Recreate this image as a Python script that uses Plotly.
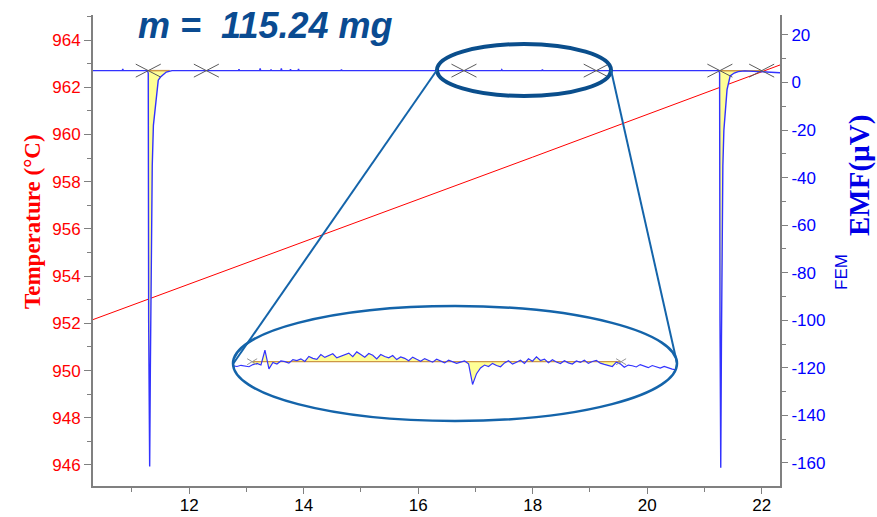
import plotly.graph_objects as go

# ---------------- data ----------------
# axis ranges: run time (min), temperature (°C), EMF (µV)
T_RANGE = [10.32, 22.32]
TEMP_RANGE = [945.11, 965.06]
EMF_RANGE = [-169.7, 28.4]

temp_ticks = [946, 948, 950, 952, 954, 956, 958, 960, 962, 964]
emf_ticks = [-160, -140, -120, -100, -80, -60, -40, -20, 0, 20]
emf_ticktext = ["-160", "-140", "-120", "-100", "-80", "-60", "-40", "-20", "0", "20"]
time_ticks = [12, 14, 16, 18, 20, 22]

# furnace temperature ramp
temp_t = [10.30, 14.00, 18.00, 22.35]
temp_c = [952.14, 955.44, 959.04, 962.97]

# thermopile EMF signal
emf_t = [10.30, 10.83, 10.84, 10.85, 11.270,
         11.285, 11.292, 11.310, 11.322, 11.335, 11.345, 11.355, 11.375,
         11.420, 11.460, 11.500, 11.600, 11.700, 11.760,
         12.860, 12.870, 12.880, 13.230, 13.240, 13.250, 13.420, 13.430,
         13.440, 13.600, 13.610, 13.620, 13.760, 13.770, 13.780, 13.900,
         13.910, 13.920, 14.650, 14.660, 14.670, 17.450, 17.460, 17.470,
         18.160, 18.170, 18.180, 21.250,
         21.265, 21.272, 21.285, 21.297, 21.310, 21.322, 21.340, 21.365,
         21.395, 21.450, 21.520, 21.590, 21.700, 21.850, 22.000, 22.100,
         22.350]
emf_v = [5.0, 5.0, 5.7, 5.0, 5.0,
         4.0, -100.0, -161.5, -120.0, -80.0, -55.0, -35.0, -18.0,
         -7.0, 1.0, 2.3, 4.4, 5.0, 5.0,
         5.0, 5.6, 5.0, 5.0, 5.9, 5.0, 5.0, 5.5,
         5.0, 5.0, 5.9, 5.0, 5.0, 5.6, 5.0, 5.0,
         5.7, 5.0, 5.0, 5.5, 5.0, 5.0, 5.4, 5.0,
         5.0, 5.5, 5.0, 5.0,
         4.0, -100.0, -162.0, -110.0, -60.0, -35.0, -20.0, -10.0,
         -3.0, 2.8, 4.0, 4.6, 4.9, 4.7, 4.5, 4.3,
         4.1]
emf_base = 5.0

# integration limits (min) and peak windows
limit_t = [11.285, 12.30, 16.80, 19.11, 21.27, 22.00]
peak_windows = [(11.285, 11.70), (21.265, 22.00)]
peak_baselines = [(11.285, 11.66), (21.27, 22.00)]

# magnified baseline segment (16.68 - 19.46 min, sampled every 0.025 min)
inset_t0 = 16.68
inset_dt = 0.025
inset_v = [4.83, 4.80, 4.85, 4.82, 4.79, 4.88, 4.93, 4.86, 5.48, 4.70,
           4.97, 4.90, 5.03, 5.00, 4.94, 5.09, 5.05, 5.12, 5.01, 5.22,
           5.14, 5.10, 5.30, 5.18, 5.25, 5.33, 5.16, 5.22, 5.28, 5.36,
           5.21, 5.41, 5.30, 5.19, 5.34, 5.27, 5.12, 5.30, 5.22, 5.16,
           5.26, 5.09, 5.20, 5.14, 5.04, 5.19, 5.10, 5.02, 5.13, 5.06,
           4.98, 5.10, 5.03, 4.95, 5.06, 5.01, 4.93, 4.98, 5.03, 4.91,
           4.05, 4.50, 4.74, 4.86, 4.80, 4.93, 4.84, 4.79, 4.95, 5.04,
           4.90, 4.98, 5.06, 4.93, 5.12, 5.02, 5.20, 5.05, 5.11, 4.96,
           5.08, 4.99, 4.92, 5.04, 4.95, 4.90, 5.03, 4.97, 5.06, 4.93,
           5.01, 5.05, 4.94, 4.89, 4.84, 4.80, 4.98, 4.91, 4.77, 4.86,
           4.83, 4.78, 4.88, 4.81, 4.75, 4.84, 4.79, 4.73, 4.80, 4.74,
           4.69, 4.66]
inset_range_t = [16.68, 19.46]
inset_range_v = [3.608, 5.907]
inset_limits = [16.80, 19.11]
inset_base = 5.0

# ---------------- styling ----------------
W, H = 877, 517
PL, PR, PT, PB = 93, 780, 15, 486          # plot-area edges in pixels
AXIS_GREY = "rgb(128,128,128)"
SIG_BLUE = "rgb(50,50,255)"
FILL_YELLOW = "rgb(255,255,150)"
BASE_TAN = "rgb(205,150,70)"
LENS_DARK = "rgb(10,78,140)"
LENS_BLUE = "rgb(20,100,170)"
SANS = "Liberation Sans, Arial, sans-serif"
SERIF = "Liberation Serif, Times New Roman, serif"


def fx(px):
    return (px - PL) / (PR - PL)


def fy(py):
    return (PB - py) / (PB - PT)


px_per_min = (PR - PL) / (T_RANGE[1] - T_RANGE[0])
px_per_uv = (PB - PT) / (EMF_RANGE[1] - EMF_RANGE[0])


def area(ts, vs, a, b, base):
    xs = [a] + [t for t in ts if a < t < b] + [b, a]
    ys = [base] + [v for t, v in zip(ts, vs) if a < t < b] + [base, base]
    return xs, ys


def crosses(centers, base, half_w, half_h):
    xs, ys = [], []
    for c in centers:
        xs += [c - half_w, c + half_w, None, c - half_w, c + half_w, None]
        ys += [base - half_h, base + half_h, None, base + half_h, base - half_h, None]
    return xs, ys


fig = go.Figure()

# temperature ramp (left axis)
fig.add_trace(go.Scatter(x=temp_t, y=temp_c, mode="lines",
                         line=dict(color="rgb(255,0,0)", width=1),
                         yaxis="y", hoverinfo="skip"))

# integrated peak areas
for (a, b), (ba, bb) in zip(peak_windows, peak_baselines):
    xs, ys = area(emf_t, emf_v, a, b, emf_base)
    fig.add_trace(go.Scatter(x=xs, y=ys, mode="lines", fill="toself",
                             fillcolor=FILL_YELLOW, line=dict(width=0),
                             yaxis="y2", hoverinfo="skip"))
    fig.add_trace(go.Scatter(x=[ba, bb], y=[emf_base, emf_base], mode="lines",
                             line=dict(color=BASE_TAN, width=1.5),
                             yaxis="y2", hoverinfo="skip"))

# EMF signal
fig.add_trace(go.Scatter(x=emf_t, y=emf_v, mode="lines",
                         line=dict(color=SIG_BLUE, width=1.4),
                         yaxis="y2", hoverinfo="skip"))

# integration limit crosses
cx, cy = crosses(limit_t, emf_base, 12.5 / px_per_min, 6.5 / px_per_uv)
fig.add_trace(go.Scatter(x=cx, y=cy, mode="lines",
                         line=dict(color="rgb(90,90,90)", width=1),
                         yaxis="y2", hoverinfo="skip"))

# magnified segment
inset_t = [inset_t0 + i * inset_dt for i in range(len(inset_v))]
ix, iy = area(inset_t, inset_v, inset_limits[0], inset_limits[1], inset_base)
fig.add_trace(go.Scatter(x=ix, y=iy, mode="lines", fill="toself",
                         fillcolor=FILL_YELLOW, line=dict(width=0),
                         xaxis="x3", yaxis="y3", hoverinfo="skip"))
fig.add_trace(go.Scatter(x=inset_limits, y=[inset_base, inset_base], mode="lines",
                         line=dict(color=BASE_TAN, width=1.2),
                         xaxis="x3", yaxis="y3", hoverinfo="skip"))
fig.add_trace(go.Scatter(x=inset_t, y=inset_v, mode="lines",
                         line=dict(color=SIG_BLUE, width=1.2),
                         xaxis="x3", yaxis="y3", hoverinfo="skip"))
inset_px_min = (677 - 233) / (inset_range_t[1] - inset_range_t[0])
inset_px_uv = (395 - 340) / (inset_range_v[1] - inset_range_v[0])
icx, icy = crosses(inset_limits, inset_base, 5 / inset_px_min, 3 / inset_px_uv)
fig.add_trace(go.Scatter(x=icx, y=icy, mode="lines",
                         line=dict(color="rgb(150,150,150)", width=1),
                         xaxis="x3", yaxis="y3", hoverinfo="skip"))

# lens: small ellipse on the baseline, large ellipse with the magnified view
shapes = [
    dict(type="circle", xref="paper", yref="paper",
         x0=fx(437), x1=fx(611), y0=fy(96), y1=fy(44),
         line=dict(color=LENS_DARK, width=4)),
    dict(type="circle", xref="paper", yref="paper",
         x0=fx(233), x1=fx(677), y0=fy(421), y1=fy(306),
         line=dict(color=LENS_BLUE, width=2.5)),
    dict(type="line", xref="paper", yref="paper",
         x0=fx(437), y0=fy(70), x1=fx(233), y1=fy(364),
         line=dict(color=LENS_BLUE, width=2)),
    dict(type="line", xref="paper", yref="paper",
         x0=fx(611), y0=fy(70), x1=fx(677), y1=fy(363),
         line=dict(color=LENS_BLUE, width=2)),
]

annotations = [
    dict(text="m =  115.24 mg", xref="paper", yref="paper",
         x=fx(265), y=fy(25), xanchor="center", yanchor="middle", showarrow=False,
         font=dict(family=SANS, size=36, color="rgb(10,75,145)",
                   weight="bold", style="italic")),
    dict(text="Temperature (°C)", xref="paper", yref="paper",
         x=fx(32), y=fy(222), xanchor="center", yanchor="middle", showarrow=False,
         textangle=-90,
         font=dict(family=SERIF, size=23, color="rgb(255,0,0)", weight="bold")),
    dict(text="EMF(µV)", xref="paper", yref="paper",
         x=fx(859), y=fy(176), xanchor="center", yanchor="middle", showarrow=False,
         textangle=-90,
         font=dict(family=SERIF, size=29, color="rgb(0,0,230)", weight="bold")),
    dict(text="FEM", xref="paper", yref="paper",
         x=fx(841), y=fy(272), xanchor="center", yanchor="middle", showarrow=False,
         textangle=-90,
         font=dict(family=SANS, size=17, color="rgb(0,0,230)")),
]

axis_common = dict(showline=True, linecolor=AXIS_GREY, linewidth=2,
                   ticks="outside", tickwidth=1, tickcolor=AXIS_GREY,
                   showgrid=False, zeroline=False, automargin=False)

fig.update_layout(
    width=W, height=H,
    margin=dict(l=PL, r=W - PR, t=PT, b=H - PB, autoexpand=False),
    paper_bgcolor="white", plot_bgcolor="white",
    showlegend=False,
    shapes=shapes,
    annotations=annotations,
    xaxis=dict(range=T_RANGE, tickvals=time_ticks, ticklen=6, ticklabelstandoff=-3,
               tickfont=dict(family=SANS, size=17, color="black"),
               minor=dict(dtick=1, tick0=11, ticks="outside", ticklen=4,
                          tickcolor=AXIS_GREY, showgrid=False),
               **axis_common),
    yaxis=dict(range=TEMP_RANGE, tickvals=temp_ticks, ticklen=7,
               tickfont=dict(family=SANS, size=17, color="rgb(255,0,0)"),
               minor=dict(dtick=1, tick0=945, ticks="outside", ticklen=4,
                          tickcolor=AXIS_GREY, showgrid=False),
               **axis_common),
    yaxis2=dict(range=EMF_RANGE, tickvals=emf_ticks, ticktext=emf_ticktext, ticklen=6,
                overlaying="y", side="right",
                tickfont=dict(family=SANS, size=17, color="rgb(0,0,255)"),
                minor=dict(dtick=10, tick0=0, ticks="outside", ticklen=4,
                           tickcolor=AXIS_GREY, showgrid=False),
                **axis_common),
    xaxis3=dict(domain=[fx(233), fx(677)], range=inset_range_t, anchor="y3",
                visible=False, fixedrange=True),
    yaxis3=dict(domain=[fy(395), fy(340)], range=inset_range_v, anchor="x3",
                visible=False, fixedrange=True),
)

fig.write_html("out.html")
